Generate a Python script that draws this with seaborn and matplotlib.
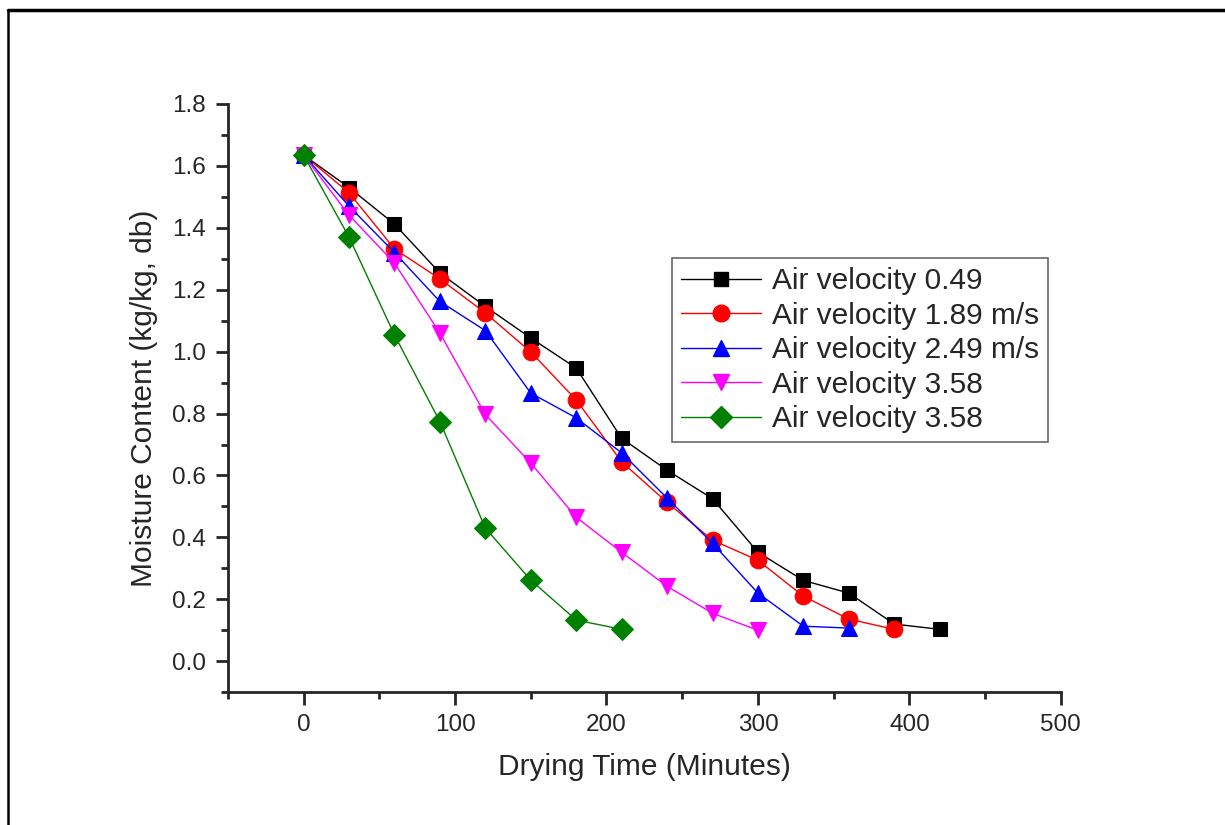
import matplotlib
matplotlib.use("Agg")
import matplotlib.pyplot as plt
import matplotlib.lines as mlines
from matplotlib.ticker import MultipleLocator
import seaborn as sns
import pandas as pd

# drying time in minutes
time_049 = [0, 30, 60, 90, 120, 150, 180, 210, 240, 270, 300, 330, 360, 390, 420]
mc_049 = [1.635, 1.530, 1.412, 1.254, 1.146, 1.044, 0.947, 0.720, 0.617, 0.525, 0.352, 0.261, 0.220, 0.120, 0.103]

time_189 = [0, 30, 60, 90, 120, 150, 180, 210, 240, 270, 300, 330, 360, 390]
mc_189 = [1.635, 1.513, 1.332, 1.235, 1.125, 0.999, 0.844, 0.644, 0.513, 0.391, 0.326, 0.210, 0.136, 0.103]

time_249 = [0, 30, 60, 90, 120, 150, 180, 210, 240, 270, 300, 330, 360]
mc_249 = [1.635, 1.470, 1.320, 1.162, 1.068, 0.866, 0.786, 0.673, 0.527, 0.381, 0.220, 0.113, 0.107]

time_358a = [0, 30, 60, 90, 120, 150, 180, 210, 240, 270, 300]
mc_358a = [1.635, 1.441, 1.286, 1.060, 0.797, 0.640, 0.465, 0.352, 0.242, 0.155, 0.100]

time_358b = [0, 30, 60, 90, 120, 150, 180, 210]
mc_358b = [1.635, 1.370, 1.054, 0.774, 0.430, 0.262, 0.133, 0.103]

labels = ["Air velocity 0.49", "Air velocity 1.89 m/s", "Air velocity 2.49 m/s",
          "Air velocity 3.58", "Air velocity 3.58"]
colors = ["black", "red", "blue", "magenta", "green"]
markers = ["s", "o", "^", "v", "D"]
msizes = [10.5, 12, 12, 12, 11.5]

sns.set_style("ticks")
plt.rcParams['font.family'] = ['Liberation Sans', 'DejaVu Sans']

fig = plt.figure(figsize=(12.25, 8.25), dpi=100)
ax = fig.add_axes([0.186, 0.161, 0.680, 0.713])

series = [(time_049, mc_049), (time_189, mc_189), (time_249, mc_249),
          (time_358a, mc_358a), (time_358b, mc_358b)]
handles = []
for (t, m), lab, c, mk, ms in zip(series, labels, colors, markers, msizes):
    df = pd.DataFrame({'time': t, 'mc': m})
    sns.lineplot(data=df, x='time', y='mc', ax=ax, color=c, marker=mk,
                 markersize=ms, markeredgecolor=c, linewidth=1.0)
    handles.append(mlines.Line2D([], [], color=c, marker=mk, markersize=ms,
                                 markeredgecolor=c, linewidth=1.0, label=lab))

ax.set_xlim(-50, 500)
ax.set_ylim(-0.1, 1.8)
ax.xaxis.set_major_locator(MultipleLocator(100))
ax.xaxis.set_minor_locator(MultipleLocator(50))
ax.yaxis.set_minor_locator(MultipleLocator(0.1))
ax.set_yticks([0.0, 0.2, 0.4, 0.6, 0.8, 1.0, 1.2, 1.4, 1.6, 1.8])
ax.set_yticklabels(['0.0', '0.2', '0.4', '0.6', '0.8', '1.0', '1.2', '1.4', '1.6', '1.8'])
ax.tick_params(which='major', length=9, width=2, labelsize=17.5, direction='out', pad=7)
ax.tick_params(which='minor', length=5, width=2, direction='out')

sns.despine(ax=ax)
for s in ['left', 'bottom']:
    ax.spines[s].set_linewidth(2)

ax.set_xlabel('Drying Time (Minutes)', fontsize=21.5, labelpad=12)
ax.set_ylabel('Moisture Content (kg/kg, db)', fontsize=21.5, labelpad=10)

leg = ax.legend(handles=handles, loc='upper left', bbox_to_anchor=(0.533, 0.738),
                borderaxespad=0, fontsize=21.5, frameon=True, fancybox=False,
                edgecolor='#444444', handlelength=2.7, labelspacing=0.22,
                borderpad=0.3, handletextpad=0.35)
leg.get_frame().set_linewidth(1.2)

# outer frame lines (top and left)
fig.add_artist(mlines.Line2D([8 / 1225, 1], [1 - 10 / 825, 1 - 10 / 825],
                             transform=fig.transFigure, color='black', linewidth=2.5))
fig.add_artist(mlines.Line2D([8 / 1225, 8 / 1225], [0, 1 - 10 / 825],
                             transform=fig.transFigure, color='black', linewidth=1.8))

fig.savefig('out.png', dpi=100)
